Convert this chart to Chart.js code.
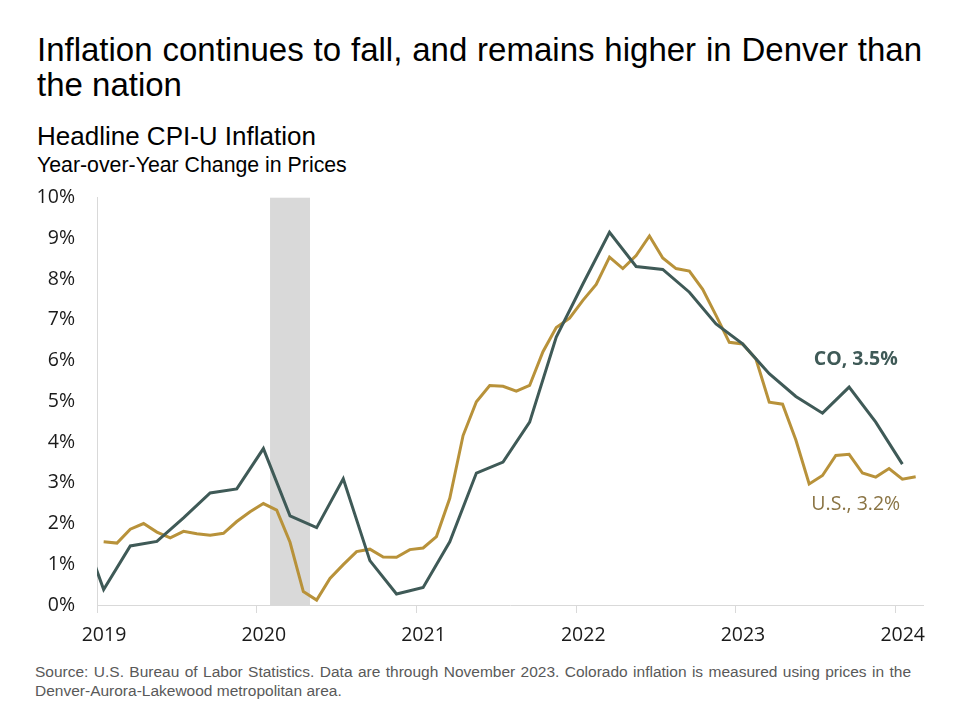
<!DOCTYPE html>
<html>
<head>
<meta charset="utf-8">
<script src="https://cdn.jsdelivr.net/npm/chart.js@4.4.1/dist/chart.umd.min.js"></script>
<style>
  html, body { margin: 0; padding: 0; background: #ffffff; }
  body { width: 960px; height: 720px; position: relative; overflow: hidden; font-family: "Liberation Sans", Arial, sans-serif; }
  #title { position: absolute; left: 37px; top: 31.5px; width: 885px; font-size: 33px; line-height: 35.3px; color: #000; text-align: justify; }
  #sub1 { position: absolute; left: 37px; top: 121px; font-size: 26px; line-height: 30px; color: #000; white-space: nowrap; }
  #sub2 { position: absolute; left: 37px; top: 154px; font-size: 21.3px; line-height: 22px; color: #000; white-space: nowrap; }
  #foot { position: absolute; left: 35px; top: 662px; width: 876px; font-size: 15.5px; line-height: 19px; color: #595959; text-align: justify; }
  #wrap { position: absolute; left: 0; top: 164px; width: 960px; height: 496px; }
</style>
</head>
<body>
<div id="title">Inflation continues to fall, and remains higher in Denver than the nation</div>
<div id="sub1">Headline CPI-U Inflation</div>
<div id="sub2">Year-over-Year Change in Prices</div>
<div id="wrap"><canvas id="c" width="960" height="496"></canvas></div>
<div id="foot">Source: U.S. Bureau of Labor Statistics. Data are through November 2023. Colorado inflation is measured using prices in the Denver-Aurora-Lakewood metropolitan area.</div>
<script>
// ---- Data ----
const usMonths = [
  "2019-01","2019-02","2019-03","2019-04","2019-05","2019-06","2019-07","2019-08","2019-09","2019-10","2019-11","2019-12",
  "2020-01","2020-02","2020-03","2020-04","2020-05","2020-06","2020-07","2020-08","2020-09","2020-10","2020-11","2020-12",
  "2021-01","2021-02","2021-03","2021-04","2021-05","2021-06","2021-07","2021-08","2021-09","2021-10","2021-11","2021-12",
  "2022-01","2022-02","2022-03","2022-04","2022-05","2022-06","2022-07","2022-08","2022-09","2022-10","2022-11","2022-12",
  "2023-01","2023-02","2023-03","2023-04","2023-05","2023-06","2023-07","2023-08","2023-09","2023-10","2023-11","2023-12",
  "2024-01","2024-02"
];
const usValues = [
  1.55,1.52,1.86,2.00,1.79,1.65,1.81,1.75,1.71,1.76,2.05,2.29,
  2.49,2.33,1.54,0.33,0.12,0.65,0.99,1.31,1.37,1.18,1.17,1.36,
  1.40,1.68,2.62,4.16,4.99,5.39,5.37,5.25,5.39,6.22,6.81,7.04,
  7.48,7.87,8.54,8.26,8.58,9.06,8.52,8.26,8.20,7.75,7.11,6.45,
  6.41,6.04,4.98,4.93,4.05,2.97,3.18,3.67,3.70,3.24,3.14,3.35,
  3.09,3.15
];
const coMonths = [
  "2018-11",
  "2019-01","2019-03","2019-05","2019-07","2019-09","2019-11",
  "2020-01","2020-03","2020-05","2020-07","2020-09","2020-11",
  "2021-01","2021-03","2021-05","2021-07","2021-09","2021-11",
  "2022-01","2022-03","2022-05","2022-07","2022-09","2022-11",
  "2023-01","2023-03","2023-05","2023-07","2023-09","2023-11",
  "2024-01"
];
const coValues = [
  2.2,
  0.38,1.45,1.56,2.14,2.75,2.85,
  3.84,2.19,1.90,3.10,1.09,0.27,
  0.43,1.55,3.24,3.51,4.49,6.58,
  7.88,9.15,8.31,8.24,7.68,6.90,
  6.41,5.68,5.12,4.71,5.35,4.49,
  3.46
];
const yearTicks = [2019, 2020, 2021, 2022, 2023, 2024];
const yTicks = [0,1,2,3,4,5,6,7,8,9,10];
const recession = { start: "2020-02", end: "2020-04" };
const labels = { co: "CO, 3.5%", us: "U.S., 3.2%" };

// ---- Helpers ----
const BASE_YEAR = 2019;
function monthStart(s) { const [y, m] = s.split("-").map(Number); return (y - BASE_YEAR) * 12 + (m - 1); }
function monthMid(s) { return monthStart(s) + 0.5; }

const CO_COLOR = "#3f5a57";
const US_COLOR = "#b8923a";
const US_TEXT = "#8a7444";
const AXIS_COLOR = "#d9d9d9";

const recessionPlugin = {
  id: "recession",
  beforeDatasetsDraw(chart) {
    const { ctx, chartArea, scales } = chart;
    const x0 = scales.x.getPixelForValue(monthStart(recession.start));
    const x1 = scales.x.getPixelForValue(monthStart(recession.end) + 1);
    ctx.save();
    ctx.fillStyle = "#d9d9d9";
    ctx.fillRect(x0, chartArea.top, x1 - x0, chartArea.bottom - chartArea.top);
    ctx.restore();
  }
};

const labelPlugin = {
  id: "endLabels",
  afterDatasetsDraw(chart) {
    const { ctx, scales } = chart;
    ctx.save();
    ctx.textAlign = "center";
    ctx.textBaseline = "middle";
    ctx.font = 'bold 19.5px "Open Sans", sans-serif';
    ctx.fillStyle = CO_COLOR;
    ctx.fillText(labels.co, scales.x.getPixelForValue(57.0), scales.y.getPixelForValue(6.03));
    ctx.font = '19.5px "Open Sans", sans-serif';
    ctx.fillStyle = US_TEXT;
    ctx.fillText(labels.us, scales.x.getPixelForValue(57.0), scales.y.getPixelForValue(2.48));
    ctx.restore();
  }
};

new Chart(document.getElementById("c"), {
  type: "line",
  data: {
    datasets: [
      {
        label: "CO",
        data: coMonths.map((m, i) => ({ x: monthMid(m), y: coValues[i] })),
        borderColor: CO_COLOR,
        borderWidth: 3,
        pointRadius: 0,
        tension: 0,
        clip: 0
      },
      {
        label: "U.S.",
        data: usMonths.map((m, i) => ({ x: monthMid(m), y: usValues[i] })),
        borderColor: US_COLOR,
        borderWidth: 3,
        pointRadius: 0,
        tension: 0,
        clip: 0
      }
    ]
  },
  options: {
    responsive: false,
    animation: false,
    devicePixelRatio: 1,
    layout: { padding: { left: 0, top: 17, right: 37, bottom: 0 } },
    plugins: { legend: { display: false }, tooltip: { enabled: false } },
    scales: {
      x: {
        type: "linear",
        min: 0,
        max: 62.05,
        afterBuildTicks: s => { s.ticks = yearTicks.map(y => ({ value: (y - BASE_YEAR) * 12 })); },
        afterFit: s => { s.height = 55; },
        ticks: {
          callback: v => String(BASE_YEAR + Math.round(v / 12)),
          font: { family: "Open Sans", size: 19.5 },
          color: "#1a1a1a",
          labelOffset: 7,
          padding: 11,
          maxRotation: 0,
          autoSkip: false
        },
        grid: { display: true, drawOnChartArea: false, drawTicks: true, tickLength: 8, color: AXIS_COLOR, lineWidth: 1 },
        border: { display: true, color: AXIS_COLOR, width: 1 }
      },
      y: {
        min: 0,
        max: 10,
        afterBuildTicks: s => { s.ticks = yTicks.map(v => ({ value: v })); },
        afterFit: s => { s.width = 97; },
        ticks: {
          callback: v => v + "%",
          font: { family: "Open Sans", size: 19.5 },
          color: "#1a1a1a",
          padding: 22
        },
        grid: { display: false, drawTicks: false },
        border: { display: true, color: AXIS_COLOR, width: 1 }
      }
    }
  },
  plugins: [recessionPlugin, labelPlugin]
});
</script>
</body>
</html>
